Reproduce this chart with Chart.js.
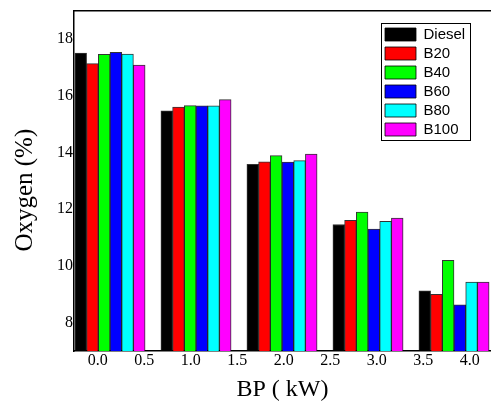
<!DOCTYPE html>
<html>
<head>
<meta charset="utf-8">
<script src="https://cdn.jsdelivr.net/npm/chart.js@4.4.1/dist/chart.umd.min.js"></script>
<style>
html, body { margin: 0; padding: 0; background: #fff; overflow: hidden; }
</style>
</head>
<body>
<canvas id="myChart" width="491" height="404"></canvas>
<script>
// one bar group per load step
const groups = [0, 1, 2, 3, 4];
const xTickValues = [0, 0.5, 1, 1.5, 2, 2.5, 3, 3.5, 4];
const yTickValues = [8, 10, 12, 14, 16, 18];

const fuels = ['Diesel', 'B20', 'B40', 'B60', 'B80', 'B100'];
const diesel = [17.5, 15.47, 13.58, 11.46, 9.12];
const b20 = [17.13, 15.6, 13.67, 11.61, 9.0];
const b40 = [17.46, 15.65, 13.89, 11.9, 10.2];
const b60 = [17.53, 15.64, 13.66, 11.3, 8.63];
const b80 = [17.47, 15.64, 13.71, 11.57, 9.43];
const b100 = [17.08, 15.86, 13.94, 11.69, 9.43];
const colors = ['#000000', '#ff0000', '#00ff00', '#0000ff', '#00ffff', '#ff00ff'];

const series = [diesel, b20, b40, b60, b80, b100];

const serif = 'Liberation Serif, Times New Roman, serif';

// move the legend into the upper right of the plot and put a frame round it
const legendBox = {
    id: 'legendBox',
    afterLayout(chart) {
        const lg = chart.legend;
        const h = lg.height;
        lg.left = 381;
        lg.top = 23;
        lg.right = lg.left + lg.width;
        lg.bottom = lg.top + h;
    },
    afterDraw(chart) {
        const lg = chart.legend;
        const col = lg.columnSizes[0];
        const ctx = chart.ctx;
        ctx.save();
        ctx.strokeStyle = '#000';
        ctx.lineWidth = 1;
        ctx.strokeRect(Math.round(lg.left) + 0.5, Math.round(lg.top) + 0.5,
            Math.round(col.width + 9), Math.round(col.height + 3));
        ctx.restore();
    }
};

const data = {
    labels: groups,
    datasets: fuels.map((name, i) => ({
        label: name,
        data: series[i],
        backgroundColor: colors[i],
        borderColor: 'rgba(0,0,0,0.8)',
        borderWidth: 1,
        xAxisID: 'xb',
        yAxisID: 'y',
        barThickness: 11.7
    }))
};

const config = {
    type: 'bar',
    data: data,
    options: {
        responsive: false,
        animation: false,
        events: [],
        layout: { padding: { top: 10, left: 0, right: 0, bottom: 0 } },
        plugins: {
            tooltip: { enabled: false },
            legend: {
                position: 'chartArea',
                align: 'start',
                labels: {
                    boxWidth: 31,
                    boxHeight: 13,
                    padding: 4,
                    color: '#000',
                    font: { family: 'Liberation Sans, Arial, sans-serif', size: 15 }
                }
            }
        },
        scales: {
            xb: {
                type: 'linear',
                display: false,
                offset: false,
                min: -0.4186,
                max: 4.4302,
                afterBuildTicks: axis => { axis.ticks = groups.map(v => ({ value: v })); }
            },
            x: {
                type: 'linear',
                position: 'bottom',
                offset: false,
                min: -0.256,
                max: 4.228,
                afterBuildTicks: axis => { axis.ticks = xTickValues.map(v => ({ value: v })); },
                afterFit: axis => { axis.height = 53; },
                grid: { display: false, drawTicks: false, offset: false },
                border: { display: true, color: '#000', width: 1.5 },
                ticks: {
                    callback: v => Number(v).toFixed(1),
                    color: '#000',
                    padding: 0,
                    maxRotation: 0,
                    autoSkip: false,
                    font: { family: serif, size: 16 }
                },
                title: {
                    display: true,
                    text: 'BP ( kW)',
                    color: '#000',
                    padding: { top: 0, bottom: 0 },
                    font: { family: serif, size: 24 }
                }
            },
            top: {
                type: 'linear',
                position: 'top',
                offset: false,
                grid: { display: false, drawTicks: false, offset: false },
                border: { display: true, color: '#000', width: 1.5 },
                ticks: { display: false }
            },
            y: {
                type: 'linear',
                position: 'left',
                min: 7,
                max: 19,
                afterBuildTicks: axis => { axis.ticks = yTickValues.map(v => ({ value: v })); },
                afterFit: axis => { axis.width = 74; },
                grid: { display: false, drawTicks: false },
                border: { display: true, color: '#000', width: 1.5 },
                ticks: {
                    color: '#000',
                    padding: 1,
                    font: { family: serif, size: 16 }
                },
                title: {
                    display: true,
                    // trailing spaces push the rotated title down to where the original sits
                    text: 'Oxygen (%)\u00a0\u00a0\u00a0',
                    color: '#000',
                    padding: { top: 10, bottom: 0 },
                    font: { family: serif, size: 25 }
                }
            }
        }
    },
    plugins: [legendBox]
};

const myChart = new Chart(
    document.getElementById('myChart'),
    config
);
</script>
</body>
</html>
